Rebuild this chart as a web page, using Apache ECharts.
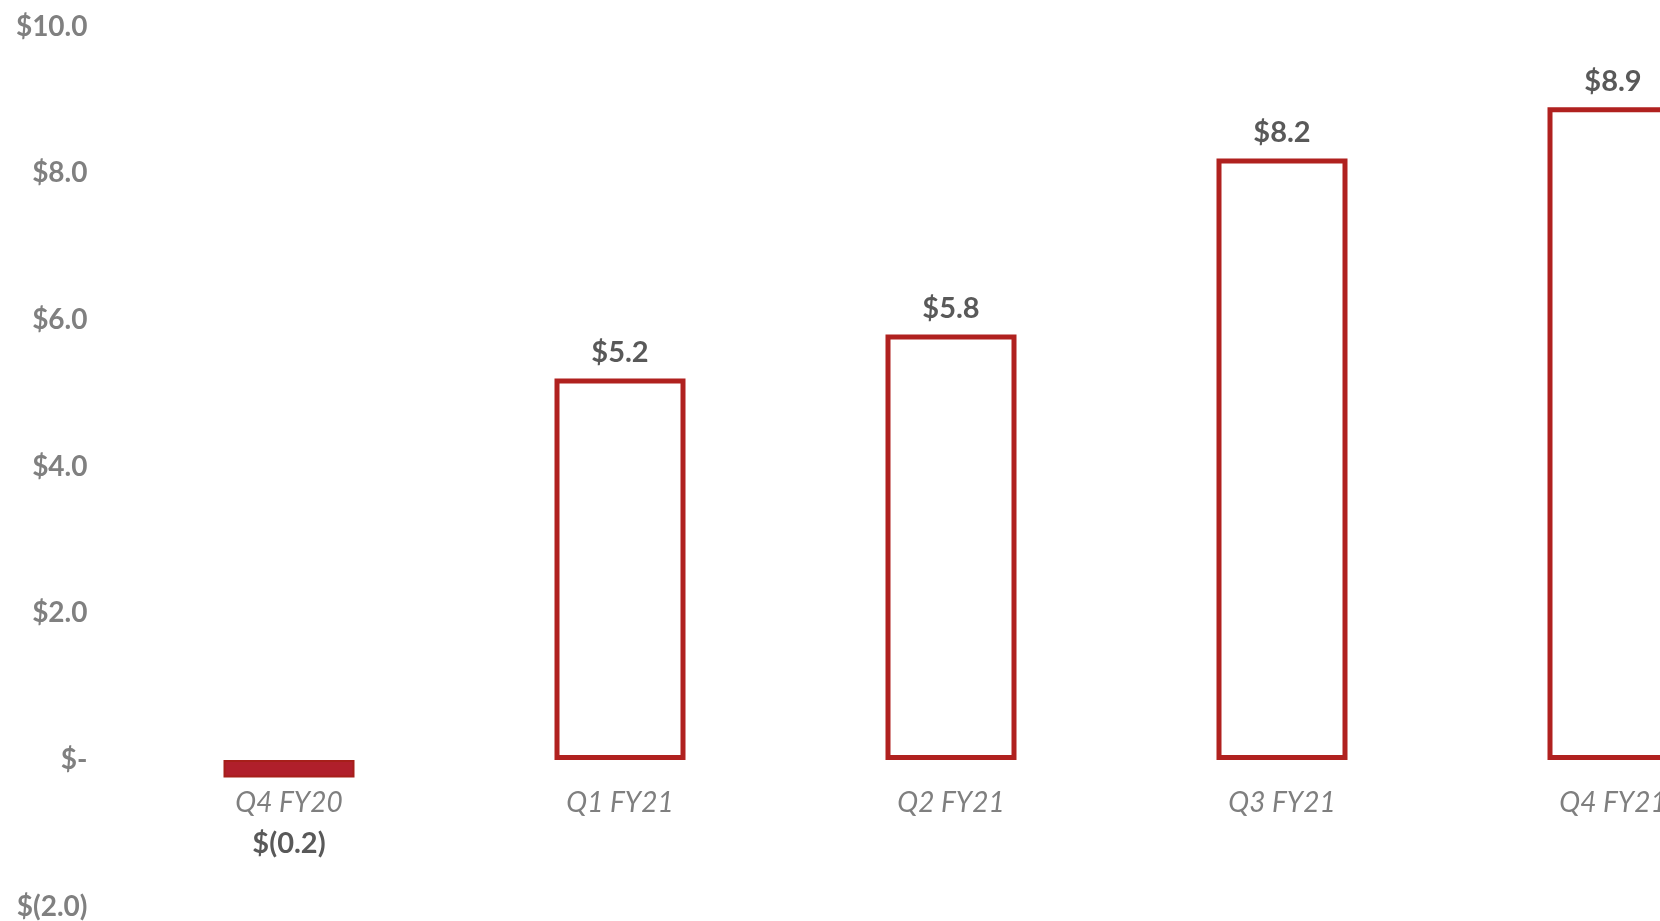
<!DOCTYPE html>
<html>
<head>
<meta charset="utf-8">
<script src="https://cdn.jsdelivr.net/npm/echarts@6/dist/echarts.min.js"></script>
<style>
html,body{margin:0;padding:0;background:#fff;}
#chart{width:1660px;height:921px;}
</style>
</head>
<body>
<div id="chart"></div>
<script>
const categories = ['Q4 FY20', 'Q1 FY21', 'Q2 FY21', 'Q3 FY21', 'Q4 FY21'];
const values = [-0.24, 5.2, 5.8, 8.2, 8.9];
const yMin = -2, yMax = 10, yInterval = 2;

const red = '#B0211F';
function money(v) {
  if (v === 0) return '$-';
  if (v < 0) return '$(' + Math.abs(v).toFixed(1) + ')';
  return '$' + v.toFixed(1);
}

const gridTop = 26.5, gridBottom = 14.3, chartH = 921;
const gridH = chartH - gridTop - gridBottom;
// place the category axis on the zero line of the value scale
const zeroOffset = -((0 - yMin) / (yMax - yMin)) * gridH;

const seriesData = values.map(function (v) {
  const neg = v < 0;
  return {
    value: v,
    itemStyle: neg ? { color: '#B01F2B', borderColor: '#A61F1A', borderWidth: 2 }
                   : { color: '#ffffff', borderColor: red, borderWidth: 5 },
    label: neg ? { position: 'bottom', distance: 52 } : { position: 'top', distance: 11 }
  };
});

const chart = echarts.init(document.getElementById('chart'), null, { renderer: 'canvas' });
chart.setOption({
  animation: false,
  backgroundColor: '#ffffff',
  grid: { left: 123.5, right: -118.5, top: gridTop, bottom: gridBottom, containLabel: false, outerBoundsMode: 'none' },
  xAxis: {
    type: 'category',
    data: categories,
    position: 'bottom',
    offset: zeroOffset,
    axisLine: { show: false, onZero: false },
    axisTick: { show: false },
    axisLabel: {
      color: '#7F7F7F', fontStyle: 'italic', fontSize: 28,
      fontFamily: 'Lato, "Open Sans", sans-serif', margin: 29
    }
  },
  yAxis: {
    type: 'value',
    min: yMin, max: yMax, interval: yInterval,
    splitLine: { show: false },
    axisLine: { show: false },
    axisTick: { show: false },
    axisLabel: {
      color: '#808080', fontWeight: 'bold', fontSize: 28,
      fontFamily: 'Lato, "Open Sans", sans-serif', margin: 36,
      formatter: money
    }
  },
  series: [{
    type: 'bar',
    data: seriesData,
    barWidth: 131,
    label: {
      show: true,
      color: '#595959', fontWeight: 'bold', fontSize: 29,
      fontFamily: 'Lato, "Open Sans", sans-serif',
      formatter: function (p) { return money(p.value); }
    }
  }]
});
</script>
</body>
</html>
